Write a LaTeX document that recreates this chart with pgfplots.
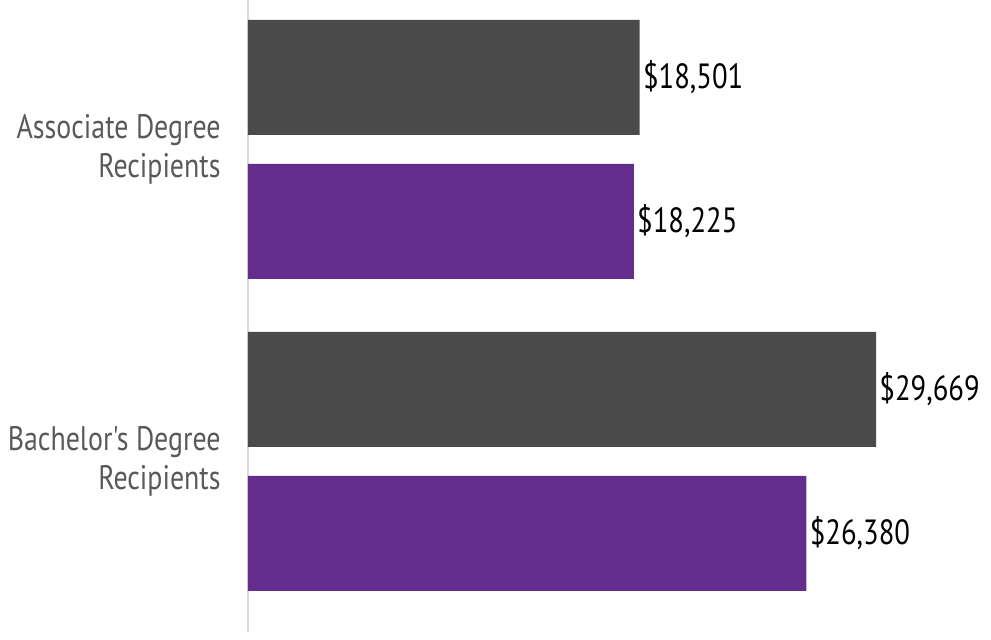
\documentclass[border=0pt]{standalone}
\usepackage{fontspec}
\setmainfont{PT Sans}[FakeStretch=0.82, Ligatures=TeXOff]
\usepackage{pgfplots}
\pgfplotsset{compat=1.18}
\definecolor{bardark}{HTML}{4A4A4A}
\definecolor{barpurple}{HTML}{632D8E}
\definecolor{axisgray}{HTML}{D9D9D9}
\definecolor{labelgray}{HTML}{595959}
\begin{document}
\begin{tikzpicture}
\useasboundingbox (-124pt,-4pt) rectangle (371.5pt,316pt);
\begin{axis}[
  width=371.5pt, height=316pt, scale only axis,
  xbar, bar width=57.5pt,
  xmin=0, xmax=35100,
  ymin=-0.5465, ymax=1.4792,
  axis x line=none,
  axis y line*=left,
  y axis line style={axisgray, line width=1.2pt, -},
  ytick={0,1},
  yticklabels={{Bachelor's Degree\\Recipients},{Associate Degree\\Recipients}},
  major tick length=0pt,
  yticklabel style={align=right, text=labelgray, inner sep=0pt, xshift=-13.5pt,
    font=\fontsize{17}{19.5}\selectfont},
  point meta=explicit symbolic,
  nodes near coords,
  nodes near coords style={anchor=west, inner sep=1.5pt, text=black,
    font=\fontsize{17.5}{21}\selectfont},
  clip=false,
]
\addplot[fill=bardark, draw=none, bar shift=36pt] coordinates {
  (18501,1) [\$18,501]
  (29669,0) [\$29,669]
};
\addplot[fill=barpurple, draw=none, bar shift=-36pt] coordinates {
  (18225,1) [\$18,225]
  (26380,0) [\$26,380]
};
\end{axis}
\end{tikzpicture}
\end{document}
